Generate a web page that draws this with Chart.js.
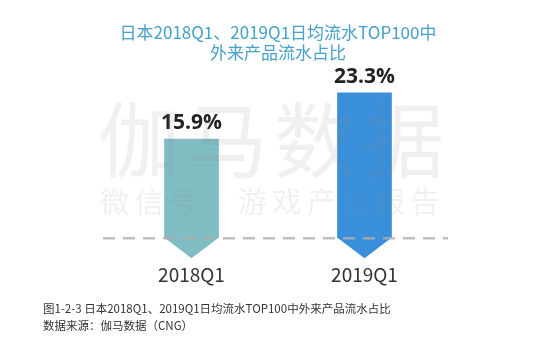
<!DOCTYPE html>
<html>
<head>
<meta charset="utf-8">
<script src="https://cdn.jsdelivr.net/npm/chart.js@4.4.1/dist/chart.umd.min.js"></script>
<style>
  html, body { margin: 0; padding: 0; background: #fff; }
  .wrap { position: relative; width: 550px; height: 361px; }
  .caption {
    position: absolute; left: 43px; top: 300px;
    font-family: "Noto Sans CJK SC", sans-serif; font-size: 11.5px;
    color: #333; line-height: 17px;
  }
</style>
</head>
<body>
<div class="wrap">
  <canvas id="chart" width="550" height="361"></canvas>
  <div class="caption">
    <div>图1-2-3 日本2018Q1、2019Q1日均流水TOP100中外来产品流水占比</div>
    <div>数据来源：伽马数据（CNG）</div>
  </div>
</div>
<script>
const categories = ["2018Q1", "2019Q1"];
const shareValues = [15.9, 23.3];
const barColors = ["rgb(127,189,195)", "rgb(57,143,218)"];
const titleLines = ["日本2018Q1、2019Q1日均流水TOP100中", "外来产品流水占比"];

// arrow tips, value labels, dashed baseline and watermark
const arrowBars = {
    id: "arrowBars",
    afterDatasetsDraw(chart) {
        const ctx = chart.ctx;
        const meta = chart.getDatasetMeta(0);
        const yZero = chart.scales.y.getPixelForValue(0);
        ctx.save();
        meta.data.forEach(function (bar, i) {
            const half = bar.width / 2;
            ctx.fillStyle = barColors[i];
            ctx.beginPath();
            ctx.moveTo(bar.x - half, yZero - 0.5);
            ctx.lineTo(bar.x + half, yZero - 0.5);
            ctx.lineTo(bar.x, yZero + 20);
            ctx.closePath();
            ctx.fill();

            ctx.fillStyle = "#222";
            ctx.font = "bold 21px 'Open Sans', sans-serif";
            ctx.textAlign = "center";
            ctx.textBaseline = "middle";
            ctx.fillText(shareValues[i].toFixed(1) + "%", bar.x, bar.y - 16);
        });

        const area = chart.chartArea;
        ctx.strokeStyle = "rgba(175,175,175,0.8)";
        ctx.lineWidth = 2.5;
        ctx.setLineDash([12, 8]);
        ctx.beginPath();
        ctx.moveTo(area.left - 2, yZero);
        ctx.lineTo(area.right - 3, yZero);
        ctx.stroke();
        ctx.restore();
    },
    afterDraw(chart) {
        const ctx = chart.ctx;
        ctx.save();
        ctx.fillStyle = "rgba(140,140,140,0.13)";
        ctx.textBaseline = "middle";
        ctx.textAlign = "left";
        ctx.font = "82px 'Noto Sans CJK SC', sans-serif";
        const big = "伽马数据";
        for (let i = 0; i < big.length; i++) {
            ctx.fillText(big[i], 98 + i * 88, 140);
        }
        ctx.font = "29px 'Noto Sans CJK SC', sans-serif";
        const small = "微信号：游戏产业报告";
        for (let i = 0; i < small.length; i++) {
            ctx.fillText(small[i], 100 + i * 34.5, 202);
        }
        ctx.restore();
    }
};

new Chart(document.getElementById("chart"), {
    type: "bar",
    data: {
        labels: categories,
        datasets: [{
            data: shareValues,
            backgroundColor: barColors,
            borderWidth: 0,
            barThickness: 54
        }]
    },
    options: {
        responsive: false,
        animation: false,
        layout: { padding: { top: 10, left: 105, right: 99, bottom: 58 } },
        plugins: {
            legend: { display: false },
            tooltip: { enabled: false },
            title: {
                display: true,
                text: titleLines,
                color: "rgb(70,160,200)",
                font: { family: "'Noto Sans CJK SC', sans-serif", size: 17, weight: "normal", lineHeight: 1.2 },
                padding: { top: 12, bottom: 7 }
            }
        },
        scales: {
            x: {
                grid: { display: false },
                border: { display: false },
                ticks: {
                    color: "#333",
                    padding: 17,
                    font: { family: "'Noto Sans CJK SC', sans-serif", size: 19 }
                }
            },
            y: {
                display: false,
                min: 0,
                max: 27
            }
        }
    },
    plugins: [arrowBars]
});
</script>
</body>
</html>
